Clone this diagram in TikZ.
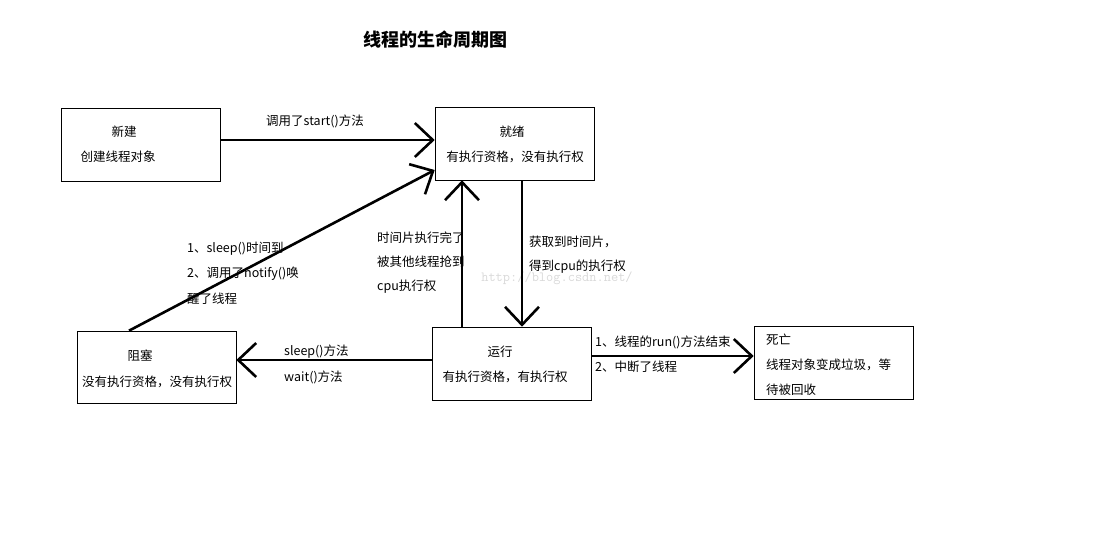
\documentclass[tikz,border=0pt]{standalone}
\usepackage{fontspec}
\setmainfont{Noto Sans CJK SC}
\usetikzlibrary{arrows.meta}
\begin{document}
\begin{tikzpicture}[x=1pt,y=-1pt,
 box/.style={draw,line width=0.6pt},
 t/.style={font=\fontsize{12.5}{14}\selectfont,inner sep=0pt},
 arr/.style={line width=2.6pt,-{Straight Barb[length=18pt,width=34pt,line width=2.6pt]}}]
\useasboundingbox (0,0) rectangle (1098,538);
\node[t,font=\fontsize{18}{20}\selectfont\bfseries] (title) at (435,40) {线程的生命周期图};
\node[box,minimum width=159pt,minimum height=73pt] (xjN) at (140.5,144.5) {};
\node[t] (l1) at (124,132) {新建};
\node[t] (l2) at (118,157) {创建线程对象};
\node[box,minimum width=159pt,minimum height=73pt] (jx) at (514.5,143.5) {};
\node[t] at (512,132) {就绪};
\node[t] at (515,157) {有执行资格，没有执行权};
\node[box,minimum width=159pt,minimum height=72pt] (zs) at (156.5,367) {};
\node[t] at (140,356) {阻塞};
\node[t] at (157,382) {没有执行资格，没有执行权};
\node[box,minimum width=159pt,minimum height=73pt] (yx) at (511.5,363.5) {};
\node[t] at (500,352) {运行};
\node[t] at (505,377) {有执行资格，有执行权};
\node[box,minimum width=159pt,minimum height=73pt] (sw) at (833.5,362.5) {};
\node[t,anchor=west] at (766,340) {死亡};
\node[t,anchor=west] at (766,365) {线程对象变成垃圾，等};
\node[t,anchor=west] at (766,390) {待被回收};
\node[t,text=black!15,font=\fontsize{14}{16}\selectfont\ttfamily] at (557,278) {http://blog.csdn.net/};
\draw[arr] ([yshift=4.5pt]xjN.east) -- ([yshift=3.5pt]jx.west);
\node[t] at (315,121) {调用了start()方法};
\draw[arr] ([xshift=7.5pt]jx.south) -- ([xshift=10.5pt]yx.north);
\node[t,anchor=west] at (529,242) {获取到时间片，};
\node[t,anchor=west] at (529,267) {得到cpu的执行权};
\draw[arr] ([xshift=-49.5pt]yx.north) -- ([xshift=-52.5pt]jx.south);
\node[t,anchor=west] at (377,238) {时间片执行完了};
\node[t,anchor=west] at (377,262) {被其他线程抢到};
\node[t,anchor=west] at (377,287) {cpu执行权};
\draw[arr] ([xshift=-27.5pt]zs.north) -- ([yshift=-26.5pt]jx.west);
\node[t,anchor=west] at (187,249) {1、sleep()时间到};
\node[t,anchor=west] at (187,274) {2、调用了notify()唤};
\node[t,anchor=west] at (187,299) {醒了线程};
\draw[arr] ([yshift=3.5pt]yx.west) -- ([yshift=7pt]zs.east);
\node[t,anchor=west] at (284,352) {sleep()方法};
\node[t,anchor=west] at (284,377) {wait()方法};
\draw[arr] ([yshift=7.5pt]yx.east) -- ([yshift=6.5pt]sw.west);
\node[t,anchor=west] at (595,342) {1、线程的run()方法结束};
\node[t,anchor=west] at (595,367) {2、中断了线程};
\end{tikzpicture}
\end{document}
